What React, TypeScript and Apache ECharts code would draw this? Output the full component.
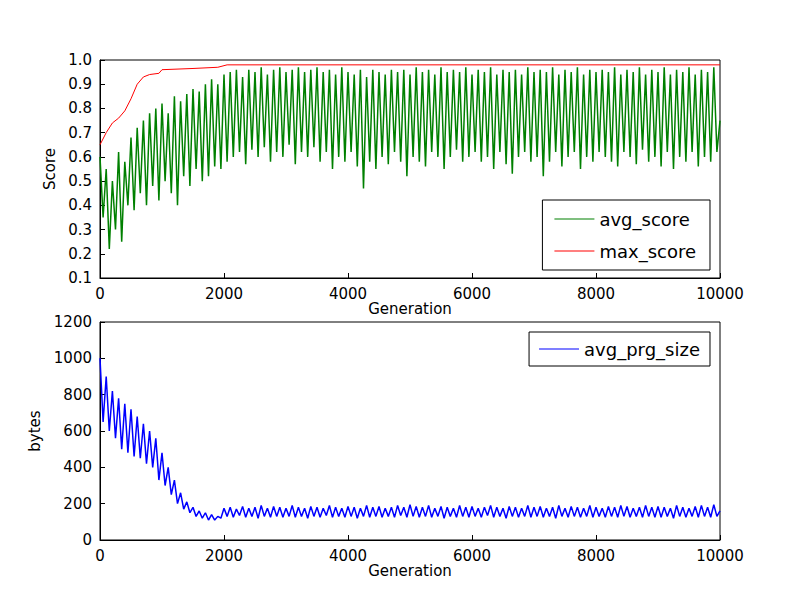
import * as echarts from 'echarts'
import { useEffect, useRef } from 'react'

const STEP = 50

const avgScore = [
  0.60, 0.35, 0.55, 0.22, 0.50, 0.30, 0.62, 0.25, 0.58, 0.40, 0.68, 0.38, 0.72, 0.45, 0.75, 0.40, 0.78, 0.48, 0.80, 0.42, 0.82, 0.50, 0.78, 0.45, 0.85, 0.40, 0.83, 0.52, 0.86, 0.48, 0.88, 0.55, 0.87, 0.50, 0.90, 0.52, 0.92, 0.56, 0.90, 0.55, 0.94,
  0.58, 0.95, 0.60, 0.96, 0.62, 0.93, 0.57, 0.96, 0.63, 0.95, 0.60, 0.97, 0.64, 0.94, 0.58, 0.96, 0.62, 0.97, 0.60, 0.95, 0.65, 0.96, 0.57, 0.97, 0.62, 0.95, 0.60, 0.96, 0.64, 0.97, 0.58, 0.95, 0.62, 0.96, 0.55, 0.94, 0.60, 0.97, 0.58, 0.95,
  0.62, 0.94, 0.56, 0.96, 0.47, 0.93, 0.58, 0.96, 0.55, 0.95, 0.60, 0.94, 0.57, 0.96, 0.62, 0.95, 0.58, 0.96, 0.52, 0.94, 0.60, 0.97, 0.58, 0.95, 0.56, 0.96, 0.62, 0.94, 0.60, 0.97, 0.55, 0.95, 0.60, 0.96, 0.63, 0.95, 0.58, 0.97, 0.60, 0.94,
  0.62, 0.96, 0.58, 0.95, 0.60, 0.97, 0.55, 0.94, 0.62, 0.96, 0.57, 0.95, 0.53, 0.96, 0.60, 0.94, 0.62, 0.97, 0.58, 0.95, 0.60, 0.96, 0.52, 0.95, 0.58, 0.97, 0.62, 0.94, 0.56, 0.96, 0.60, 0.95, 0.62, 0.97, 0.55, 0.94, 0.60, 0.96, 0.58, 0.95,
  0.62, 0.96, 0.60, 0.95, 0.58, 0.97, 0.56, 0.94, 0.62, 0.96, 0.60, 0.95, 0.57, 0.97, 0.63, 0.94, 0.58, 0.96, 0.60, 0.95, 0.56, 0.97, 0.62, 0.94, 0.55, 0.96, 0.60, 0.95, 0.58, 0.97, 0.62, 0.94, 0.56, 0.96, 0.60, 0.95, 0.58, 0.97, 0.62, 0.75,
]

const maxScore: [number, number][] = [
  [0, 0.65], [100, 0.70], [200, 0.74], [300, 0.76], [400, 0.79], [500, 0.84], [600, 0.90],
  [700, 0.93], [800, 0.94], [950, 0.945], [1000, 0.96], [1500, 0.965], [1900, 0.97], [2050, 0.98], [10000, 0.98],
]

const avgPrgSize = [
  1000, 650, 900, 600, 820, 560, 780, 500, 750, 480, 720, 460, 680, 450, 640, 420, 600, 400, 560, 330,
  480, 300, 400, 250, 330, 200, 260, 170, 210, 150, 180, 130, 160, 120, 150, 110, 140, 110, 130, 120,
  175, 130, 180, 125, 170, 135, 185, 125, 175, 130, 180, 120, 190, 130, 175, 125, 185, 130, 180, 125,
  175, 130, 190, 125, 180, 130, 175, 120, 185, 130, 180, 125, 175, 135, 190, 125, 180, 130, 175, 125,
  185, 130, 180, 120, 175, 130, 190, 125, 180, 130, 185, 125, 175, 130, 180, 125, 190, 135, 180, 125,
  195, 130, 185, 125, 180, 130, 190, 125, 175, 130, 185, 120, 180, 130, 175, 125, 190, 130, 180, 125,
  185, 130, 175, 125, 180, 135, 190, 125, 180, 130, 175, 120, 185, 130, 180, 125, 175, 130, 190, 125,
  180, 130, 185, 125, 175, 130, 180, 120, 190, 130, 175, 125, 185, 130, 180, 125, 175, 130, 190, 125,
  180, 130, 175, 125, 185, 130, 180, 125, 190, 130, 185, 125, 175, 130, 180, 125, 190, 130, 180, 125,
  185, 125, 180, 130, 175, 120, 190, 130, 180, 125, 175, 130, 185, 125, 190, 130, 180, 125, 195, 130,
  160,
]

const withGen = (vals: number[]) => vals.map((v, i) => [i * STEP, v])

const font = 'DejaVu Sans'

const axisCommon = {
  axisLine: { lineStyle: { color: '#000' } },
  axisTick: { inside: true, length: 5, lineStyle: { color: '#000' } },
  axisLabel: { color: '#000', fontSize: 15, fontFamily: font, formatter: (v: number) => String(v) },
  splitLine: { show: false },
  nameTextStyle: { color: '#000', fontSize: 15, fontFamily: font },
}

export default function App() {
  const ref = useRef<HTMLDivElement>(null)

  useEffect(() => {
    if (!ref.current) return
    const chart = echarts.init(ref.current, undefined, { renderer: 'svg' })
    chart.setOption({
      animation: false,
      backgroundColor: '#fff',
      grid: [
        { left: 100, top: 60, width: 620, height: 218, show: true, borderColor: '#000', borderWidth: 1 },
        { left: 100, top: 322, width: 620, height: 218, show: true, borderColor: '#000', borderWidth: 1 },
      ],
      xAxis: [0, 1].map((g) => ({
        ...axisCommon,
        type: 'value', gridIndex: g, min: 0, max: 10000, interval: 2000,
        name: 'Generation', nameLocation: 'middle', nameGap: 22,
      })),
      yAxis: [
        { ...axisCommon, type: 'value', gridIndex: 0, min: 0.1, max: 1.0, interval: 0.1,
          name: 'Score', nameLocation: 'middle', nameGap: 36,
          axisLabel: { ...axisCommon.axisLabel, formatter: (v: number) => v.toFixed(1) } },
        { ...axisCommon, type: 'value', gridIndex: 1, min: 0, max: 1200, interval: 200,
          name: 'bytes', nameLocation: 'middle', nameGap: 54 },
      ],
      legend: [
        { data: ['avg_score', 'max_score'], orient: 'vertical', right: 90, top: 200, width: 177,
          itemWidth: 40, itemHeight: 1, itemGap: 14, padding: [10, 14, 10, 12], borderColor: '#000', borderWidth: 1,
          backgroundColor: '#fff', textStyle: { fontSize: 18, fontFamily: font, color: '#000' }, icon: 'rect' },
        { data: ['avg_prg_size'], right: 90, top: 332, itemWidth: 40, itemHeight: 1,
          padding: [8, 10, 8, 10], borderColor: '#000', borderWidth: 1, backgroundColor: '#fff',
          textStyle: { fontSize: 18, fontFamily: font, color: '#000' }, icon: 'rect' },
      ],
      series: [
        { name: 'avg_score', type: 'line', xAxisIndex: 0, yAxisIndex: 0, data: withGen(avgScore),
          showSymbol: false, lineStyle: { color: '#008000', width: 1.5 }, itemStyle: { color: '#008000' } },
        { name: 'max_score', type: 'line', xAxisIndex: 0, yAxisIndex: 0, data: maxScore,
          showSymbol: false, lineStyle: { color: '#ff0000', width: 1 }, itemStyle: { color: '#ff0000' } },
        { name: 'avg_prg_size', type: 'line', xAxisIndex: 1, yAxisIndex: 1, data: withGen(avgPrgSize),
          showSymbol: false, lineStyle: { color: '#0000ff', width: 1.5 }, itemStyle: { color: '#0000ff' } },
      ],
    })
    return () => chart.dispose()
  }, [])

  return <div ref={ref} style={{ width: 800, height: 600, margin: -8 }} />
}
